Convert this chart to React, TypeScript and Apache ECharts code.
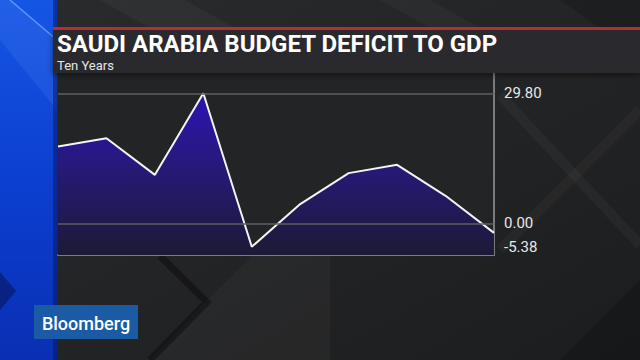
import React, { useEffect, useRef } from 'react';
import * as echarts from 'echarts';

const years = ['2005', '2006', '2007', '2008', '2009', '2010', '2011', '2012', '2013', '2014'];
const deficitToGdp = [17.6, 19.5, 11.1, 29.8, -5.38, 4.4, 11.5, 13.4, 6.3, -2.2];
const axisLabelValues = [-5.38, 0, 29.8];
const gridLineValues = [29.8, 0];
const titleText = 'SAUDI ARABIA BUDGET DEFICIT TO GDP';
const subtitleText = 'Ten Years';
const brandText = 'Bloomberg';

export default function App() {
  const ref = useRef<HTMLDivElement>(null);

  useEffect(() => {
    const chart = echarts.init(ref.current!, null, { renderer: 'svg' });
    const option: any = {
      animation: false,
      backgroundColor: {
        type: 'linear', x: 0, y: 0, x2: 1, y2: 1,
        colorStops: [
          { offset: 0, color: '#2a2b2d' },
          { offset: 1, color: '#1c1d1e' },
        ],
      },
      grid: { left: 58, right: 146, top: 72, bottom: 105, show: false },
      xAxis: {
        type: 'category',
        data: years,
        boundaryGap: false,
        axisLine: { show: true, onZero: false, lineStyle: { color: '#7b7b7b', width: 2 } },
        axisTick: { show: false },
        axisLabel: { show: false },
        splitLine: { show: false },
      },
      yAxis: {
        type: 'value',
        position: 'right',
        min: -7.27,
        max: 34.68,
        axisLine: { show: true, lineStyle: { color: '#7b7b7b', width: 2 } },
        axisTick: { show: false },
        splitLine: { show: false },
        axisLabel: {
          customValues: axisLabelValues,
          formatter: (v: number) => v.toFixed(2),
          color: '#e8e8e8',
          fontSize: 15,
          fontFamily: 'Roboto',
          margin: 10,
        },
      },
      series: [
        {
          type: 'line',
          data: deficitToGdp,
          symbol: 'none',
          lineStyle: { color: '#f4f4f4', width: 2 },
          areaStyle: {
            origin: 'start',
            opacity: 1,
            color: {
              type: 'linear', x: 0, y: 0, x2: 0, y2: 1,
              colorStops: [
                { offset: 0, color: '#2c13b4' },
                { offset: 0.45, color: '#26197a' },
                { offset: 1, color: '#1c1a36' },
              ],
            },
          },
          markLine: {
            silent: true,
            symbol: 'none',
            label: { show: false },
            lineStyle: { color: '#5c5e60', width: 1.5, type: 'solid' },
            data: gridLineValues.map((v) => ({ yAxis: v })),
          },
        },
      ],
      graphic: [
        // background texture
        { type: 'polygon', z: -3, shape: { points: [[100, 0], [185, 0], [235, 28], [150, 28]] }, style: { fill: 'rgba(255,255,255,0.035)' } },
        { type: 'polygon', z: -3, shape: { points: [[380, 0], [430, 0], [480, 28], [430, 28]] }, style: { fill: 'rgba(255,255,255,0.03)' } },
        { type: 'polygon', z: -3, shape: { points: [[560, 0], [640, 0], [640, 28], [600, 28]] }, style: { fill: 'rgba(0,0,0,0.15)' } },
        { type: 'polygon', z: -3, shape: { points: [[207, 300], [252, 256], [330, 256], [330, 360], [150, 360]] }, style: { fill: 'rgba(255,255,255,0.03)' } },
        { type: 'polyline', z: -2, shape: { points: [[160, 256], [207, 302], [150, 360]] }, style: { stroke: 'rgba(0,0,0,0.35)', lineWidth: 7, fill: 'none' } },
        { type: 'line', z: -2, shape: { x1: 500, y1: 95, x2: 640, y2: 245 }, style: { stroke: 'rgba(255,255,255,0.035)', lineWidth: 10 } },
        { type: 'line', z: -2, shape: { x1: 640, y1: 110, x2: 500, y2: 250 }, style: { stroke: 'rgba(255,255,255,0.03)', lineWidth: 10 } },
        { type: 'polygon', z: -3, shape: { points: [[560, 360], [640, 280], [640, 360]] }, style: { fill: 'rgba(0,0,0,0.18)' } },
        // plot panel
        { type: 'rect', z: -1, shape: { x: 58, y: 72, width: 436, height: 183 }, style: { fill: '#222426' } },
        // blue stripe
        {
          type: 'rect', z: 5, shape: { x: 0, y: 0, width: 57, height: 360 },
          style: {
            fill: {
              type: 'linear', x: 0, y: 0, x2: 0, y2: 1,
              colorStops: [
                { offset: 0, color: '#1656e4' },
                { offset: 0.5, color: '#0c3fd0' },
                { offset: 1, color: '#0a2fb4' },
              ],
            },
          },
        },
        { type: 'polygon', z: 5, shape: { points: [[0, 0], [10, 0], [57, 40], [57, 110], [0, 40]] }, style: { fill: 'rgba(120,170,255,0.12)' } },
        { type: 'line', z: 5, shape: { x1: 10, y1: 0, x2: 57, y2: 40 }, style: { stroke: 'rgba(150,200,255,0.55)', lineWidth: 1.5 } },
        { type: 'polygon', z: 5, shape: { points: [[0, 272], [16, 291], [0, 310]] }, style: { fill: 'rgba(5,15,70,0.5)' } },
        { type: 'rect', z: 5, shape: { x: 53, y: 0, width: 4, height: 360 }, style: { fill: 'rgba(5,20,90,0.5)' } },
        // title bar
        { type: 'rect', z: 8, shape: { x: 53, y: 30, width: 587, height: 43 }, style: { fill: '#2a2b2d', shadowBlur: 6, shadowColor: 'rgba(0,0,0,0.5)', shadowOffsetY: 2 } },
        { type: 'rect', z: 9, shape: { x: 53, y: 27, width: 587, height: 3 }, style: { fill: '#b3302e' } },
        { type: 'text', z: 10, x: 57, y: 43.5, style: { text: titleText, fill: '#ffffff', font: 'bold 24px Roboto', textVerticalAlign: 'middle' } },
        { type: 'text', z: 10, x: 57, y: 65.5, style: { text: subtitleText, fill: '#e6e6e6', font: '13px Roboto', textVerticalAlign: 'middle' } },
        // logo
        { type: 'rect', z: 10, shape: { x: 34, y: 305, width: 104, height: 34 }, style: { fill: '#1b5aa5' } },
        { type: 'text', z: 11, x: 86, y: 323, style: { text: brandText, fill: '#ffffff', font: '500 18px Roboto', textAlign: 'center', textVerticalAlign: 'middle' } },
      ],
    };
    chart.setOption(option);
    return () => chart.dispose();
  }, []);

  return <div ref={ref} style={{ position: 'fixed', left: 0, top: 0, width: 640, height: 360 }} />;
}
